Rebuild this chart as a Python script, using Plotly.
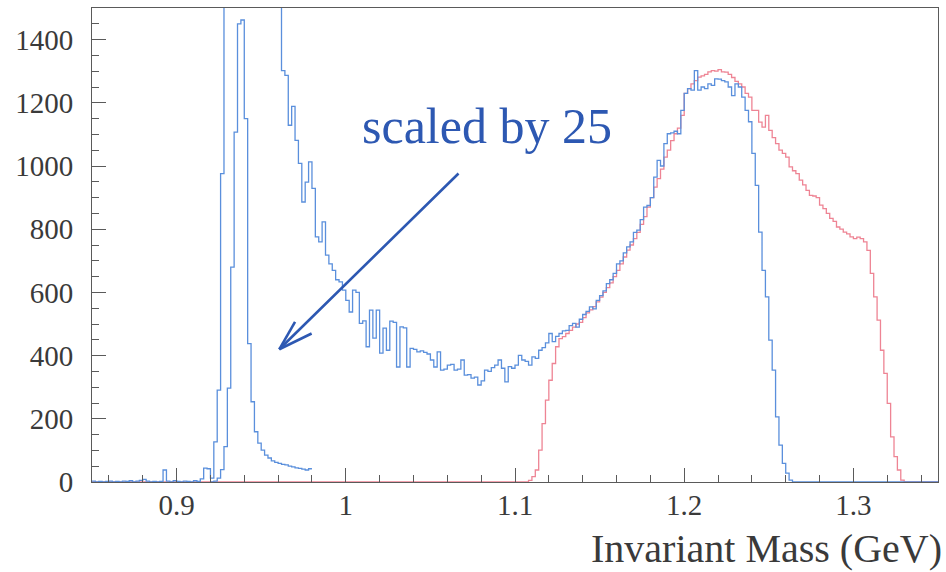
import plotly.graph_objects as go

BIN_WIDTH = 0.002

# Main (blue) histogram, bins from 0.850 GeV (values above 1500 are clipped by the axis range)
main_start = 0.850
main_values = [
    3, 0, 2, 0, 2, 3, 0, 2, 0, 3, 2, 4, 0, 3, 5, 8, 3, 0, 2, 0,
    2, 38, 3, 0, 4, 2, 0, 3, 2, 0, 4, 2, 10, 44, 42, 12,
    127, 291, 976, 2800, 7400, 17000, 27700, 36250, 36550, 28750,
    11000, 6350, 3975, 3075, 2525, 2125, 1900, 1675, 1560, 1520,
    1302, 1287, 1129, 1189, 1081, 1008, 886, 949, 1013, 929,
    776, 760, 823, 718, 690, 670, 640, 633, 607, 575,
    538, 607, 600, 502, 510, 428, 544, 455, 544, 408,
    487, 417, 509, 505, 364, 491, 488, 364, 423, 420,
    412, 415, 410, 405, 386, 364, 412, 354, 357, 370,
    372, 354, 357, 386, 338, 340, 329, 332, 307, 320,
    354, 350, 362, 370, 386, 360, 317, 365, 360, 370,
    401, 386, 382, 370, 396, 391, 417, 425, 440, 470,
    444, 461, 470, 478, 480, 495, 502, 490, 515, 530,
    540, 554, 548, 575, 590, 605, 628, 640, 660, 690,
    700, 725, 744, 760, 790, 797, 830, 870, 875, 900,
    965, 1018, 1000, 1071, 1102, 1105, 1110, 1102, 1176, 1230,
    1245, 1240, 1302, 1240, 1250, 1245, 1260, 1255, 1276, 1275,
    1270, 1266, 1250, 1223, 1260, 1250, 1218, 1176, 1140, 1040,
    939, 791, 670, 586, 449, 354, 206, 117, 59, 28, 6, 0,
] + [0] * 42

# Red histogram, bins from 0.850 GeV
red_start = 0.850
red_values = [0] * 129 + [
    5, 17, 38, 101, 185, 259, 322, 375, 428, 454,
    460, 470, 480, 490, 500, 505, 520, 535, 545, 555,
    570, 585, 600, 615, 630, 650, 670, 690, 712, 734,
    750, 770, 790, 815, 840, 870, 900, 933, 960, 990,
    1028, 1050, 1080, 1102, 1120, 1160, 1230, 1245, 1260, 1270,
    1281, 1285, 1290, 1298, 1302, 1300, 1305, 1298, 1297, 1290,
    1280, 1268, 1260, 1250, 1230, 1218, 1176, 1176, 1139, 1123,
    1160, 1113, 1090, 1071, 1050, 1040, 1028, 997, 985, 976,
    955, 940, 923, 907, 905, 900, 876, 865, 850, 834,
    825, 807, 800, 791, 785, 776, 770, 775, 770, 760,
    733, 660, 586, 512, 417, 344, 249, 143, 80, 38, 6, 0,
] + [0] * 9

# Blue peak drawn "scaled by 25", bins from 0.920 GeV up to 0.980 GeV
scaled_start = 0.920
scaled_values = [
    0, 3, 12, 39, 112, 297, 680, 1107, 1450, 1462,
    1150, 438, 254, 159, 123, 101, 85, 76, 67, 62,
    59, 56, 54, 50, 48, 45, 43, 41, 38, 42,
]

x_range = [0.85, 1.35]
y_range = [0, 1500]

BLUE = "#5a8fdc"
RED = "#ee8494"
DARK_BLUE = "#2d58b2"
AXIS = "#5a5a5a"
TEXT = "#3a3a3a"
SERIF = "Liberation Serif, Times New Roman, serif"


def step_xy(start, vals):
    xs = [round(start + i * BIN_WIDTH, 4) for i in range(len(vals) + 1)]
    ys = list(vals) + [vals[-1]]
    return xs, ys


fig = go.Figure()
for start, vals, color in [
    (red_start, red_values, RED),
    (main_start, main_values, BLUE),
    (scaled_start, scaled_values, BLUE),
]:
    xs, ys = step_xy(start, vals)
    fig.add_trace(go.Scatter(x=xs, y=ys, mode="lines", line=dict(color=color, width=1.3, shape="hv"),
                             hoverinfo="skip", showlegend=False))

# Arrow pointing to the scaled peak
tip = (0.9607, 420)
tail = (1.0675, 981)
fig.add_annotation(x=tip[0], y=tip[1], ax=tail[0], ay=tail[1], axref="x", ayref="y", xref="x", yref="y",
                   text="", showarrow=True, arrowhead=0, arrowwidth=2.6, arrowcolor=DARK_BLUE)
for wx, wy in [(0.970, 507), (0.9798, 470)]:
    fig.add_shape(type="line", xref="x", yref="y", x0=tip[0], y0=tip[1], x1=wx, y1=wy,
                  line=dict(color=DARK_BLUE, width=2.6))

fig.add_annotation(x=1.0834, y=1128, xref="x", yref="y", text="scaled by 25", showarrow=False,
                   font=dict(family=SERIF, size=50, color=DARK_BLUE), xanchor="center", yanchor="middle")

fig.add_annotation(x=1, y=0, xref="paper", yref="paper", text="Invariant Mass (GeV)", showarrow=False,
                   font=dict(family=SERIF, size=40, color=TEXT), xanchor="right", yanchor="middle",
                   xshift=6, yshift=-66)

axis_common = dict(showline=True, linecolor=AXIS, linewidth=1, mirror=True, ticks="inside",
                   tickcolor=AXIS, tickwidth=1, ticklen=14, showgrid=False, zeroline=False,
                   tickfont=dict(family=SERIF, size=29, color=TEXT))

fig.update_xaxes(range=x_range, dtick=0.1, tick0=0.9,
                 minor=dict(dtick=0.02, ticks="inside", ticklen=7, tickcolor=AXIS, showgrid=False),
                 ticklabelstandoff=-3, **axis_common)
fig.update_yaxes(range=y_range, dtick=200, tick0=0,
                 minor=dict(dtick=50, ticks="inside", ticklen=7, tickcolor=AXIS, showgrid=False),
                 ticklabelstandoff=12, **axis_common)

fig.update_layout(width=946, height=572, margin=dict(l=92, r=8, t=8, b=90),
                  plot_bgcolor="white", paper_bgcolor="white", showlegend=False)

fig.write_html("out.html")
